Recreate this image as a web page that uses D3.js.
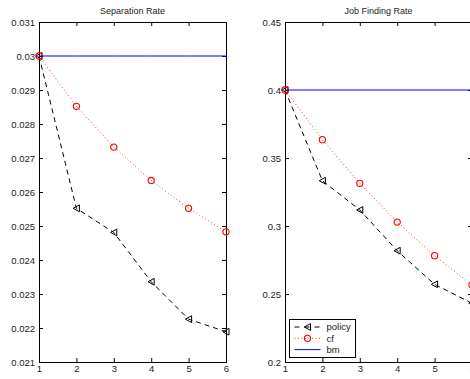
<!DOCTYPE html>
<html>
<head>
<meta charset="utf-8">
<script src="https://cdn.jsdelivr.net/npm/d3@7"></script>
<style>
  body { margin: 0; background: #fff; }
  svg { display: block; font-family: "Liberation Sans", Arial, sans-serif; }
</style>
</head>
<body>
<svg id="chart" width="470" height="379"></svg>
<script>
const periods = [1, 2, 3, 4, 5, 6]

// separation rate panel
const sepPolicy = [0.0300, 0.02552, 0.02481, 0.02336, 0.02226, 0.02189]
const sepCf = [0.0300, 0.02852, 0.02732, 0.02634, 0.02552, 0.02483]
const sepBm = [0.0300, 0.0300, 0.0300, 0.0300, 0.0300, 0.0300]
const sepTicks = [0.021, 0.022, 0.023, 0.024, 0.025, 0.026, 0.027, 0.028, 0.029, 0.030, 0.031]

// job finding rate panel
const jfPolicy = [0.400, 0.3333, 0.3118, 0.2818, 0.2571, 0.2432]
const jfCf = [0.400, 0.3635, 0.3314, 0.3029, 0.2782, 0.2566]
const jfBm = [0.400, 0.400, 0.400, 0.400, 0.400, 0.400]
const jfTicks = [0.2, 0.25, 0.3, 0.35, 0.4, 0.45]

const seriesNames = ['policy', 'cf', 'bm']

const svg = d3.select('#chart')
const fontSize = 9.5

const styles = {
  policy: { color: '#000', dash: '5,4', width: 1, marker: 'tri' },
  cf: { color: '#ff0000', dash: '1,2.5', width: 0.8, marker: 'circle' },
  bm: { color: '#0000ff', dash: null, width: 1, marker: null },
}

function drawMarker(g, kind, x, y) {
  if (kind === 'tri') {
    g.append('path')
      .attr('d', 'M-3.2,0L3,-3.4L3,3.4Z')
      .attr('transform', `translate(${x},${y})`)
      .attr('fill', 'none')
      .attr('stroke', '#000')
      .attr('stroke-width', 1)
  } else if (kind === 'circle') {
    g.append('circle')
      .attr('cx', x).attr('cy', y).attr('r', 3.1)
      .attr('fill', 'none')
      .attr('stroke', '#ff0000')
      .attr('stroke-width', 1.1)
  }
}

function panel(conf) {
  const x = d3.scaleLinear().domain([1, 6]).range([conf.left, conf.left + 187])
  const y = d3.scaleLinear().domain(conf.domain).range([362, 22])
  const g = svg.append('g')

  const fmt = (d) => String(+d.toFixed(3))

  g.append('g')
    .attr('transform', 'translate(0,362)')
    .call(d3.axisBottom(x).tickValues(periods).tickSize(-4).tickPadding(3).tickFormat(d3.format('d')))
  g.append('g')
    .attr('transform', 'translate(0,22)')
    .call(d3.axisTop(x).tickValues(periods).tickSize(-4).tickFormat(''))
  g.append('g')
    .attr('transform', `translate(${conf.left},0)`)
    .call(d3.axisLeft(y).tickValues(conf.ticks).tickSize(-4).tickPadding(4).tickFormat(fmt))
  g.append('g')
    .attr('transform', `translate(${conf.left + 187},0)`)
    .call(d3.axisRight(y).tickValues(conf.ticks).tickSize(-4).tickFormat(''))

  g.selectAll('.domain').attr('stroke', '#000').attr('stroke-width', 1)
  g.selectAll('.tick line').attr('stroke', '#000')
  g.selectAll('.tick text')
    .attr('font-size', fontSize)
    .attr('font-family', '"Liberation Sans", Arial, sans-serif')
    .attr('fill', '#222')

  const line = d3.line().x((d, i) => x(periods[i])).y((d) => y(d))
  const data = { policy: conf.policy, cf: conf.cf, bm: conf.bm }

  // plotted in series order, like the original
  seriesNames.forEach((name) => {
    const s = styles[name]
    g.append('path')
      .datum(data[name])
      .attr('d', line)
      .attr('fill', 'none')
      .attr('stroke', s.color)
      .attr('stroke-width', s.width)
      .attr('stroke-dasharray', s.dash)
    if (s.marker) {
      data[name].forEach((v, i) => drawMarker(g, s.marker, x(periods[i]), y(v)))
    }
  })

  g.append('text')
    .attr('x', conf.left + 187 / 2)
    .attr('y', 14)
    .attr('text-anchor', 'middle')
    .attr('font-size', 9)
    .attr('fill', '#222')
    .text(conf.title)

  return g
}

panel({
  left: 39,
  domain: [0.021, 0.031],
  ticks: sepTicks,
  policy: sepPolicy,
  cf: sepCf,
  bm: sepBm,
  title: 'Separation Rate',
})

panel({
  left: 285,
  domain: [0.2, 0.45],
  ticks: jfTicks,
  policy: jfPolicy,
  cf: jfCf,
  bm: jfBm,
  title: 'Job Finding Rate',
})

// legend inside the right panel
const legend = svg.append('g').attr('transform', 'translate(289.5,319.5)')
legend.append('rect')
  .attr('width', 66).attr('height', 38)
  .attr('fill', '#fff').attr('stroke', '#000').attr('stroke-width', 1)
seriesNames.forEach((name, i) => {
  const s = styles[name]
  const ly = 7.5 + i * 11.3
  legend.append('line')
    .attr('x1', 5).attr('x2', 31).attr('y1', ly).attr('y2', ly)
    .attr('stroke', s.color)
    .attr('stroke-width', s.width)
    .attr('stroke-dasharray', name === 'policy' ? '5,5' : s.dash)
  if (s.marker) drawMarker(legend, s.marker, 18, ly)
  legend.append('text')
    .attr('x', 37).attr('y', ly + 3.3)
    .attr('font-size', fontSize)
    .attr('fill', '#222')
    .text(name)
})
</script>
</body>
</html>
